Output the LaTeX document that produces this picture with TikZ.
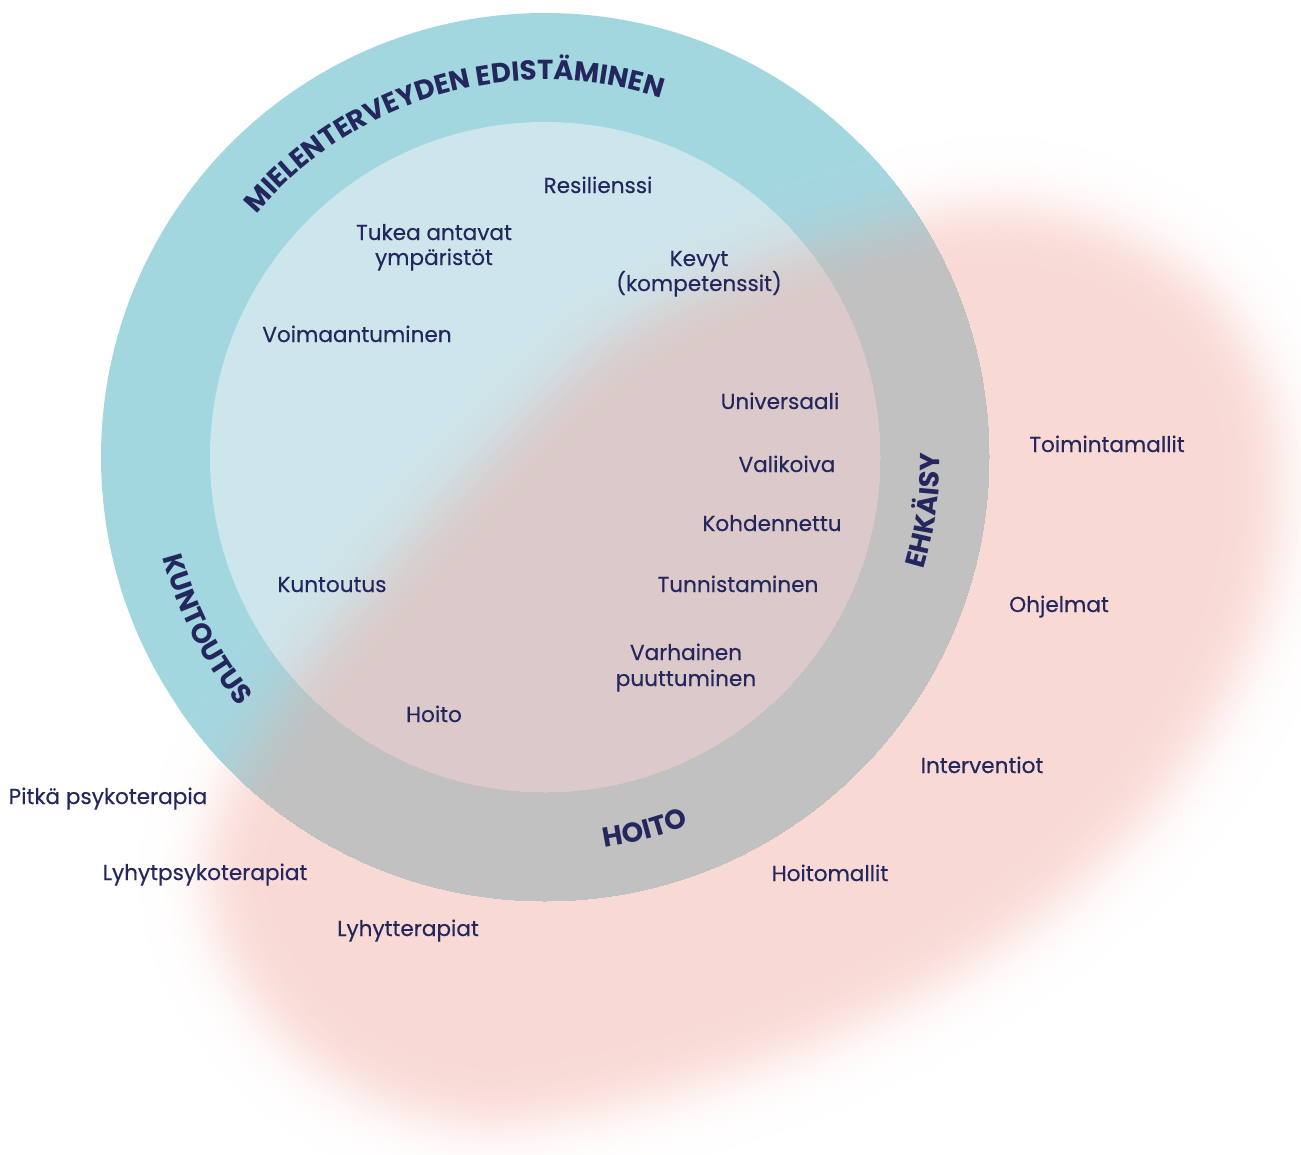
\documentclass[tikz,border=0pt]{standalone}
\usepackage{fontspec}
\setmainfont{Poppins}
\newfontfamily\lblfont{Poppins}[FakeBold=0.35]
\usetikzlibrary{decorations.text}
\definecolor{ringblue}{RGB}{163,215,224}
\definecolor{innerblue}{RGB}{205,230,236}
\definecolor{pinkP}{RGB}{240,158,145}
\definecolor{navy}{RGB}{36,39,94}
\newcommand\headfont{\fontsize{27.5}{27.5}\selectfont\bfseries}
% core of the blob (the 50% contour eroded by 60)
\def\blobcore{plot[smooth cycle] coordinates {(300,780) (368,681) (499,528) (636,393) (773,321) (904,280) (998,266) (1087,284) (1167,334) (1213,413) (1222,505) (1205,600) (1160,695) (1095,785) (1010,865) (905,935) (790,990) (675,1030) (572,1055) (486,1066) (400,1045) (330,999) (282,932) (268,873) (278,828)}}
\newcommand\drawblob[1]{%
  \foreach \d in {144,141,...,3}{%
    \pgfmathsetmacro\pct{40/(1+exp(1.702*(\d-60)/28))}%
    \pgfmathsetmacro\lw{2*\d}%
    \path[fill=pinkP!\pct!#1, draw=pinkP!\pct!#1, line width=\lw pt, line join=round] \blobcore;
  }%
}
\tikzset{
  lbl/.style={font=\lblfont\fontsize{21.6}{27}\selectfont, text=navy, inner sep=0pt, anchor=base},
  arctext/.style={decorate, decoration={text along path, text align=center, text color=navy, text={#1}}}
}
\begin{document}
\begin{tikzpicture}[x=1pt,y=-1pt]
\useasboundingbox (0,0) rectangle (1301,1154);
\coordinate (O) at (545,457);
% blob over white
\drawblob{white}
% outer ring
\fill[ringblue] (O) circle[radius=444pt];
\begin{scope}
  \clip (O) circle[radius=444pt];
  \drawblob{ringblue}
\end{scope}
% inner disk
\fill[innerblue] (O) circle[radius=335pt];
\begin{scope}
  \clip (O) circle[radius=335pt];
  \drawblob{innerblue}
\end{scope}
% curved headings
\path[arctext={|\headfont|MIELENTERVEYDEN EDISTÄMINEN}] (O) ++(-160:377) arc[start angle=-160, end angle=-52, radius=377];
\path[arctext={|\headfont|KUNTOUTUS}] (O) ++(190:395) arc[start angle=190, end angle=116, radius=395];
\path[arctext={|\headfont|HOITO}] (O) ++(110:395) arc[start angle=110, end angle=40, radius=395];
\path[arctext={|\headfont|EHKÄISY}] (O) ++(40:395) arc[start angle=40, end angle=-24, radius=395];
% labels
\node[lbl] (res) at (598,193) {Resilienssi};
\node[lbl] (tuk1) at (434,240) {Tukea antavat};
\node[lbl] (tuk2) at (434,265) {ympäristöt};
\node[lbl] (kev1) at (699,266) {Kevyt};
\node[lbl] (kev2) at (699,291) {(kompetenssit)};
\node[lbl] (voi) at (357,342) {Voimaantuminen};
\node[lbl] (uni) at (780,409) {Universaali};
\node[lbl] (val) at (787,472) {Valikoiva};
\node[lbl] (koh) at (772,531) {Kohdennettu};
\node[lbl] (tun) at (738,592) {Tunnistaminen};
\node[lbl] (kun) at (332,592) {Kuntoutus};
\node[lbl] (var1) at (686,660) {Varhainen};
\node[lbl] (var2) at (686,686) {puuttuminen};
\node[lbl] (hoi) at (434,722) {Hoito};
\node[lbl] (toi) at (1107,452) {Toimintamallit};
\node[lbl] (ohj) at (1059,612) {Ohjelmat};
\node[lbl] (int) at (982,773) {Interventiot};
\node[lbl] (hom) at (830,881) {Hoitomallit};
\node[lbl] (pit) at (108,804) {Pitkä psykoterapia};
\node[lbl] (lps) at (205,880) {Lyhytpsykoterapiat};
\node[lbl] (lyt) at (408,936) {Lyhytterapiat};
\end{tikzpicture}
\end{document}
